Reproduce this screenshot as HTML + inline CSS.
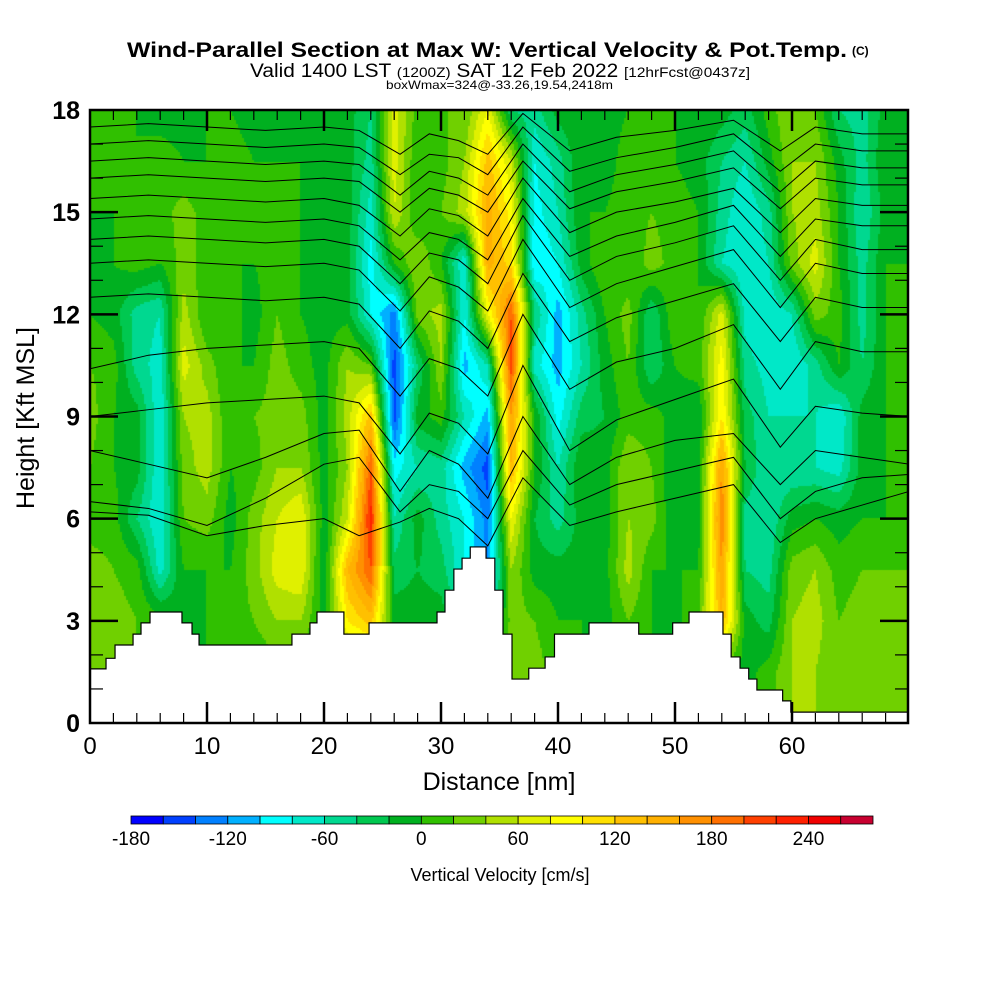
<!DOCTYPE html>
<html><head><meta charset="utf-8"><style>
html,body{margin:0;padding:0;background:#fff;width:1000px;height:1000px;overflow:hidden}
#wrap{position:relative;width:1000px;height:1000px}
canvas{position:absolute;left:90px;top:110px}
svg{position:absolute;left:0;top:0}
text{font-family:"Liberation Sans",sans-serif}
</style></head><body>
<div id="wrap">
<canvas id="field" width="818" height="613"></canvas>
<svg id="svg" width="1000" height="1000"></svg>
</div>
<script>
// ---- data ----
const rowHeights = [18,16.5,15,13.5,12,10.5,9,7.5,6,4.5,3,1.5,0]; // kft
const colStepNm = 2; // grid columns at x = 0,2,...,70 nm
const w_h18  = [0,0,0,-10,-10,0,0,-10,-10,-10,-10,-10,-40,70,10,20,20,80,-40,-50,-10,0,-10,0,10,0,0,-10,-30,10,40,20,-40,-50,-10,0];
const w_h16_5= [0,10,0,10,0,0,10,0,0,0,-10,-10,-50,70,0,10,40,130,60,-80,-50,0,-10,10,20,0,-10,-40,-60,-10,40,40,-10,-50,0,0];
const w_h15  = [0,0,0,10,30,10,0,0,0,0,-10,-10,-70,60,0,20,50,150,90,-90,-60,0,0,10,20,10,0,-50,-80,-50,40,50,0,-60,-10,0];
const w_h13_5= [-10,0,10,0,30,10,0,0,10,0,-10,-10,-90,0,40,0,-80,150,110,-100,-80,-10,20,0,30,10,0,-60,-80,-60,30,70,0,-50,0,0];
const w_h12  = [0,-10,-50,-60,50,0,10,-10,20,0,-10,-10,-80,-130,30,50,-80,80,200,-40,-110,-50,0,30,-40,20,0,70,-70,-80,-60,30,10,-50,0,0];
const w_h10_5= [20,10,-50,-70,70,30,0,0,30,10,-10,40,20,-150,-40,40,-110,-60,210,-70,-110,-60,-10,20,-40,0,10,90,-50,-70,-80,-50,0,-40,0,0];
const w_h9   = [30,0,-10,-80,40,50,0,20,30,30,-10,50,130,-150,-10,10,-60,-110,160,0,-90,-30,-20,10,10,-10,-20,100,-30,-60,-60,-60,-80,-10,0,0];
const w_h7_5 = [20,0,-10,-80,30,50,0,10,40,40,-10,40,200,-90,-60,-50,-110,-150,140,0,-60,0,-10,40,20,-20,-10,160,-20,-60,-60,-60,-70,-10,0,0];
const w_h6   = [10,10,-40,-80,20,30,-10,30,60,80,-10,60,230,-60,-10,-50,-80,-130,80,-20,-50,-10,-10,40,30,-20,-10,180,-50,-60,-10,0,-10,0,0,0];
const w_h4_5 = [30,20,10,-70,0,0,0,30,70,80,-20,140,200,-30,-20,-30,-80,-120,40,-10,-10,-10,-10,50,0,0,0,160,-40,-50,30,40,10,20,20,20];
const w_h3   = [30,30,20,10,-10,0,10,20,40,40,-10,100,130,-10,-10,-10,-50,-80,30,20,0,0,-10,20,0,-10,20,140,-10,-30,40,50,20,30,20,20];
const w_h1_5 = [30,30,20,10,0,0,0,0,10,10,0,20,20,0,0,0,0,20,40,30,10,0,0,0,0,0,0,10,-10,10,40,40,20,20,20,20];
const w_h0   = [30,30,20,10,0,0,0,0,10,10,0,20,20,0,0,0,0,20,40,30,10,0,0,0,0,0,0,10,-10,10,40,40,20,20,20,20];
const wRows = [w_h18,w_h16_5,w_h15,w_h13_5,w_h12,w_h10_5,w_h9,w_h7_5,w_h6,w_h4_5,w_h3,w_h1_5,w_h0];

const levelMin = -180, levelStep = 20;
const levelColors = ["#0000ff","#0040ff","#0080ff","#00b0ff","#00ffff","#00e8c8","#00d890","#00c850","#00b020","#30c000","#70d000","#b0e000","#e0f000","#ffff00","#ffe000","#ffc000","#ffb000","#ff9000","#ff7000","#ff4000","#ff2000","#f00000","#c80030"];
const cbarLabels = [-180,-120,-60,0,60,120,180,240];

const terrainX = [0,1.37,2.14,3.68,4.36,5.13,7.86,8.72,9.32,17.26,18.8,19.4,21.7,23.85,29.66,30.34,31.1,31.8,32.5,33.85,34.6,35.3,36.07,37.5,38.9,39.7,42.65,46.9,49.8,51.2,54.1,54.8,55.56,56.3,57.0,59.2,59.9,60.3];
const terrainH = [1.59,1.9,2.29,2.61,2.94,3.26,2.94,2.61,2.29,2.61,2.94,3.26,2.61,2.94,3.26,3.9,4.52,4.84,5.17,4.84,3.9,2.61,1.29,1.61,1.94,2.61,2.94,2.61,2.94,3.26,2.61,1.94,1.61,1.29,0.97,0.65,0.32,0.32];

const thetaX = [0,5,10,15,20,23,26.5,29,31.5,34,37,41,45,50,55,59,62,66,70];
const theta1 = [17.5,17.6,17.5,17.4,17.5,17.4,16.7,17.3,17.1,16.7,17.9,16.8,17.2,17.4,17.7,16.8,17.5,17.3,17.3];
const theta2 = [17.0,17.1,17.0,16.9,17.0,16.9,16.1,16.7,16.6,16.1,17.5,16.2,16.6,16.9,17.3,16.2,17.0,16.8,16.8];
const theta3 = [16.5,16.6,16.5,16.4,16.5,16.4,15.5,16.2,16.0,15.5,17.0,15.6,16.1,16.4,16.8,15.6,16.5,16.3,16.3];
const theta4 = [16.0,16.1,16.0,15.9,16.0,15.9,15.0,15.7,15.5,15.0,16.5,15.1,15.6,15.9,16.3,15.1,16.0,15.8,15.8];
const theta5 = [15.4,15.5,15.4,15.3,15.4,15.2,14.3,15.1,14.9,14.3,16.0,14.4,15.0,15.3,15.7,14.4,15.4,15.2,15.2];
const theta6 = [14.8,14.9,14.8,14.7,14.8,14.6,13.6,14.4,14.2,13.6,15.4,13.7,14.3,14.7,15.2,13.7,14.8,14.6,14.6];
const theta7 = [14.2,14.3,14.2,14.1,14.2,14.0,12.9,13.8,13.6,12.9,14.9,13.0,13.7,14.1,14.6,13.0,14.2,13.9,13.9];
const theta8 = [13.5,13.6,13.5,13.4,13.5,13.3,12.1,13.1,12.8,12.1,14.2,12.2,12.9,13.4,13.9,12.2,13.5,13.2,13.2];
const theta9 = [12.5,12.6,12.5,12.4,12.5,12.3,11.0,12.1,11.8,11.0,13.2,11.2,11.9,12.4,12.9,11.2,12.5,12.2,12.2];
const theta10= [10.4,10.8,11.0,11.1,11.2,11.0,9.6,10.7,10.4,9.6,12.0,9.8,10.6,11.0,11.7,9.8,11.2,10.9,10.9];
const theta11= [9.0,9.2,9.4,9.5,9.6,9.4,7.9,9.1,8.8,7.9,10.5,8.0,8.9,9.5,10.1,8.1,9.3,9.1,9.0];
const theta12= [8.0,7.6,7.2,7.8,8.5,8.6,6.8,8.0,7.6,6.6,9.0,7.0,7.8,8.3,8.5,7.0,8.0,7.8,7.6];
const theta13= [6.5,6.3,5.8,6.6,7.6,7.8,6.2,7.0,6.8,6.0,8.0,6.4,7.0,7.4,7.8,6.0,6.8,7.2,7.3];
const theta14= [6.2,6.1,5.5,5.8,6.0,5.5,5.9,6.3,6.0,5.2,7.2,5.8,6.2,6.6,7.0,5.3,6.0,6.4,6.8];
const thetaLines = [theta1,theta2,theta3,theta4,theta5,theta6,theta7,theta8,theta9,theta10,theta11,theta12,theta13,theta14];

// ---- axes ----
const PX0=90, PX1=908, PY0=110, PY1=723, XMAX=818/11.7, YMAX=18;
const sx = x => PX0 + x*11.7;
const sy = h => PY1 - h*(PY1-PY0)/YMAX;
const colorFor = v => { let i=Math.floor((v-levelMin)/levelStep); i=Math.max(0,Math.min(levelColors.length-1,i)); return levelColors[i]; };

// ---- field ----
const cv=document.getElementById('field'), ctx=cv.getContext('2d');
const B=2;
for(let py=0;py<613;py+=B){
  const h = YMAX - (py+B/2)*YMAX/613;
  const fy = (18-h)/1.5; const r0=Math.min(11,Math.floor(fy)); const ty=fy-r0;
  for(let px=0;px<818;px+=B){
    const x=(px+B/2)/11.7; const fx=x/colStepNm; const c0=Math.min(34,Math.floor(fx)); const tx=fx-c0;
    const a=wRows[r0][c0], b=wRows[r0][c0+1], c=wRows[r0+1][c0], d=wRows[r0+1][c0+1];
    const v=(a*(1-tx)+b*tx)*(1-ty)+(c*(1-tx)+d*tx)*ty;
    ctx.fillStyle=colorFor(v); ctx.fillRect(px,py,B,B);
  }
}

// ---- svg ----
const NS='http://www.w3.org/2000/svg', svg=document.getElementById('svg');
function mk(tag,attrs,parent){const e=document.createElementNS(NS,tag);for(const k in attrs)e.setAttribute(k,attrs[k]);(parent||svg).appendChild(e);return e;}
function txt(s,attrs,parent){const e=mk('text',attrs,parent);e.textContent=s;return e;}

const defs=mk('defs',{});
const cp=mk('clipPath',{id:'plotclip'},defs); mk('rect',{x:PX0,y:PY0,width:PX1-PX0,height:PY1-PY0},cp);

const cg=mk('g',{'clip-path':'url(#plotclip)'});


thetaLines.forEach((arr,i)=>{
  const p=mk('polyline',{points:arr.map((h,j)=>sx(thetaX[j])+','+sy(h)).join(' '),fill:'none',stroke:'#000','stroke-width':1},cg);
  
  
});

// terrain
let d='M'+sx(0)+','+sy(0);
for(let i=0;i<terrainX.length;i++){
  const x1 = i+1<terrainX.length ? terrainX[i+1] : XMAX;
  d+=' L'+sx(terrainX[i])+','+sy(terrainH[i])+' L'+sx(x1)+','+sy(terrainH[i]);
}
d+=' L'+sx(XMAX)+','+sy(0)+' Z';
const terr=mk('path',{d:d,fill:'#fff',stroke:'#000','stroke-width':1.2,'clip-path':'url(#plotclip)'});



// ticks
const tg=mk('g',{stroke:'#000'});


for(let h=1;h<18;h++){
  const maj=h%3===0, L=maj?28:13, w=maj?2.5:1.2;
  mk('line',{x1:PX0,x2:PX0+L,y1:sy(h),y2:sy(h),'stroke-width':w},tg);
  mk('line',{x1:PX1,x2:PX1-L,y1:sy(h),y2:sy(h),'stroke-width':w},tg);
}
for(let x=2;x<XMAX;x+=2){
  const maj=x%10===0, L=maj?21:10, w=maj?2.5:1.2;
  mk('line',{x1:sx(x),x2:sx(x),y1:PY1,y2:PY1-L,'stroke-width':w},tg);
  mk('line',{x1:sx(x),x2:sx(x),y1:PY0,y2:PY0+L,'stroke-width':w},tg);
}
const frame=mk('rect',{x:PX0,y:PY0,width:PX1-PX0,height:PY1-PY0,fill:'none',stroke:'#000','stroke-width':2.5});



// tick labels
for(let h=0;h<=18;h+=3){
  const t=txt(String(h),{x:80,y:sy(h)+9,'text-anchor':'end','font-size':25,'font-weight':'bold'});
  
  
}
for(let x=0;x<=60;x+=10){
  const t=txt(String(x),{x:sx(x),y:754,'text-anchor':'middle','font-size':24});
  
  
}
const xt=txt('Distance [nm]',{x:499,y:790,'text-anchor':'middle','font-size':25});


const yt=txt('Height [Kft MSL]',{x:0,y:0,'text-anchor':'middle','font-size':25,transform:'translate(34,418) rotate(-90)'});



// titles
const t1=txt('Wind-Parallel Section at Max W: Vertical Velocity & Pot.Temp.',{x:127,y:57,'font-size':21,'font-weight':'bold',textLength:720,lengthAdjust:'spacingAndGlyphs'});


const tc=txt('(C)',{x:852,y:55,'font-size':12,'font-weight':'bold'});


const t2=mk('text',{x:250,y:77,'font-size':19,textLength:500,lengthAdjust:'spacingAndGlyphs'});


t2.innerHTML='Valid 1400 LST <tspan font-size="14">(1200Z)</tspan> SAT 12 Feb 2022 <tspan font-size="14">[12hrFcst@0437z]</tspan>';
const t3=txt('boxWmax=324@-33.26,19.54,2418m',{x:386,y:89,'font-size':12,textLength:227,lengthAdjust:'spacingAndGlyphs'});



// colorbar
const CB0=131, CB1=873, CBY=816, CBH=8;
const cbw=(CB1-CB0)/levelColors.length;
const cbg=mk('g',{});


levelColors.forEach((c,i)=>{
  const r=mk('rect',{x:CB0+i*cbw,y:CBY,width:cbw,height:CBH,fill:c,stroke:'#000','stroke-width':0.8},cbg);
  
  
});
const cbX = v => CB0 + (v-levelMin)/levelStep*cbw;
cbarLabels.forEach(v=>{
  const t=txt(String(v),{x:cbX(v),y:845,'text-anchor':'middle','font-size':19},cbg);
  
  
});
const ct=txt('Vertical Velocity [cm/s]',{x:500,y:881,'text-anchor':'middle','font-size':18});


</script>
</body></html>
